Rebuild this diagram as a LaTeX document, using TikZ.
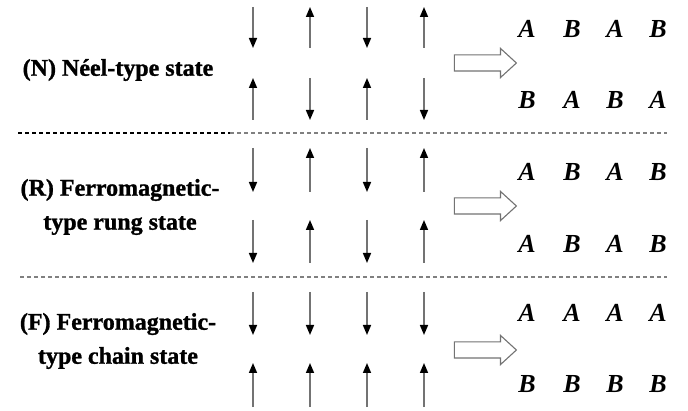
\documentclass[tikz,border=0pt]{standalone}
\usepackage{fontspec}
\setmainfont{Liberation Serif}[BoldFeatures={FakeBold=1.2}]
\usetikzlibrary{arrows.meta,shapes.arrows}

\tikzset{
  spin/.style={draw=black!55, line width=1.6pt, -{Triangle[length=10pt,width=8pt,black]}},
  sep/.style={line width=1.1pt, dash pattern=on 4pt off 3pt},
  bigarrow/.style={single arrow, draw=black!55, line width=1.1pt, fill=white,
    inner xsep=0pt, inner ysep=7.5pt, single arrow head extend=6.5pt,
    single arrow tip angle=85, minimum height=62pt},
  lbl/.style={font=\bfseries\fontsize{24}{34}\selectfont, align=center},
  site/.style={font=\bfseries\itshape\fontsize{26}{28}\selectfont}
}

\begin{document}
\begin{tikzpicture}[x=1pt,y=-1pt]
\useasboundingbox (0,0) rectangle (688,411);

% separators
\draw[sep] (18,133) -- (230,133);
\draw[sep, black!50] (230,133) -- (667,133);
\draw[sep, black!50] (20,277) -- (667,277);

% (N) Neel-type state
\node[lbl] (nLbl) at (118,70) {(N) Néel-type state};
\foreach \x/\a/\b in {253/7/48, 310/48/7, 367/7/48, 424/48/7}
  \draw[spin] (\x,\a) -- (\x,\b);
\foreach \x/\a/\b in {253/120/78, 310/78/120, 367/120/78, 424/78/120}
  \draw[spin] (\x,\a) -- (\x,\b);
\node[bigarrow] (nArr) at (481,63) {};
\foreach \x/\t [count=\i] in {527/A, 572/B, 615/A, 658/B}
  \node[site] (nT\i) at (\x,29) {\t};
\foreach \x/\t [count=\i] in {527/B, 572/A, 615/B, 658/A}
  \node[site] (nB\i) at (\x,100) {\t};

% (R) ferromagnetic rung state
\node[lbl] (rLbl) at (120,207) {(R) Ferromagnetic-\\type rung state};
\foreach \x/\a/\b in {253/148/192, 310/192/148, 367/148/192, 424/192/148}
  \draw[spin] (\x,\a) -- (\x,\b);
\foreach \x/\a/\b in {253/220/263, 310/263/220, 367/220/263, 424/263/220}
  \draw[spin] (\x,\a) -- (\x,\b);
\node[bigarrow] (rArr) at (481,206) {};
\foreach \x/\t [count=\i] in {527/A, 572/B, 615/A, 658/B}
  \node[site] (rT\i) at (\x,172) {\t};
\foreach \x/\t [count=\i] in {527/A, 572/B, 615/A, 658/B}
  \node[site] (rB\i) at (\x,244) {\t};

% (F) ferromagnetic chain state
\node[lbl] (fLbl) at (118,341) {(F) Ferromagnetic-\\type chain state};
\foreach \x in {253,310,367,424}
  \draw[spin] (\x,292) -- (\x,335);
\foreach \x in {253,310,367,424}
  \draw[spin] (\x,407) -- (\x,363);
\node[bigarrow] (fArr) at (481,350) {};
\foreach \x/\t [count=\i] in {527/A, 572/A, 615/A, 658/A}
  \node[site] (fT\i) at (\x,313) {\t};
\foreach \x/\t [count=\i] in {527/B, 572/B, 615/B, 658/B}
  \node[site] (fB\i) at (\x,384) {\t};
\end{tikzpicture}
\end{document}
